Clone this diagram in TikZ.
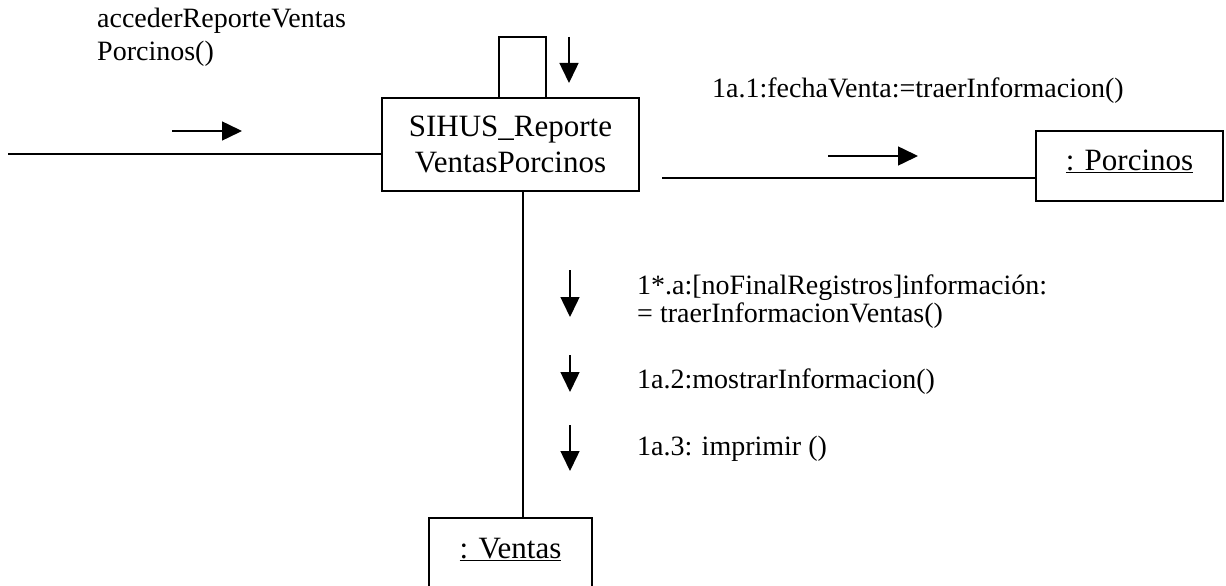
\documentclass[tikz,border=0pt]{standalone}
\usepackage{fontspec}
\setmainfont{Liberation Serif}
\usetikzlibrary{arrows.meta}
\begin{document}
\begin{tikzpicture}[x=1pt,y=-1pt,
  obj/.style={draw, line width=1.5pt, inner sep=0pt, font=\fontsize{31}{36}\selectfont, align=center},
  lbl/.style={inner sep=0pt, font=\fontsize{28}{32}\selectfont, anchor=base west},
  conn/.style={line width=1.5pt},
  msg/.style={line width=1.5pt, -{Triangle[length=20pt,width=19pt]}}]
\useasboundingbox (0,0) rectangle (1226,586);
\clip (0,0) rectangle (1226,586);
% objects
\node[obj, minimum width=257pt, minimum height=93pt] (sihus) at (510.5,144.5) {SIHUS\_Reporte\\VentasPorcinos};
\node[obj, minimum width=187pt, text height=39pt, text depth=31pt, anchor=base] (porc) at (1129.5,170) {\underline{: Porcinos}};
\node[obj, minimum width=163pt, text height=40pt, text depth=50pt, anchor=base] (ventas) at (510.5,558) {\underline{: Ventas}};
% connectors
\coordinate (inL) at (8,154);
\draw[conn] (inL) -- (inL -| sihus.west);
\coordinate (outR) at (662,178);
\draw[conn] (outR) -- (outR -| porc.west);
\coordinate (vx) at (523,0);
\draw[conn] (sihus.south -| vx) -- (ventas.north -| vx);
\coordinate (l1) at (499,37);
\coordinate (l2) at (546,37);
\draw[conn] (sihus.north -| l1) -- (l1) -- (l2) -- (sihus.north -| l2);
% message arrows
\coordinate (a1s) at (172,131); \coordinate (a1e) at (242,131);
\draw[msg] (a1s) -- (a1e);
\coordinate (a2s) at (569,37); \coordinate (a2e) at (569,83);
\draw[msg] (a2s) -- (a2e);
\coordinate (a3s) at (828,156); \coordinate (a3e) at (918,156);
\draw[msg] (a3s) -- (a3e);
\coordinate (a4s) at (570,270); \coordinate (a4e) at (570,317);
\draw[msg] (a4s) -- (a4e);
\coordinate (a5s) at (570,355); \coordinate (a5e) at (570,392);
\draw[msg] (a5s) -- (a5e);
\coordinate (a6s) at (570,425); \coordinate (a6e) at (570,471);
\draw[msg] (a6s) -- (a6e);
% labels
\node[lbl] (acc1) at (97,28) {accederReporteVentas};
\node[lbl] (acc2) at (97,60) {Porcinos()};
\node[lbl] (m1) at (712,97) {1a.1:fechaVenta:=traerInformacion()};
\node[lbl] (m2a) at (637,294) {1*.a:[noFinalRegistros]información:};
\node[lbl] (m2b) at (637,322) {= traerInformacionVentas()};
\node[lbl] (m3) at (637,388) {1a.2:mostrarInformacion()};
\node[lbl] (m4) at (637,455) {1a.3: imprimir ()};
\end{tikzpicture}
\end{document}
